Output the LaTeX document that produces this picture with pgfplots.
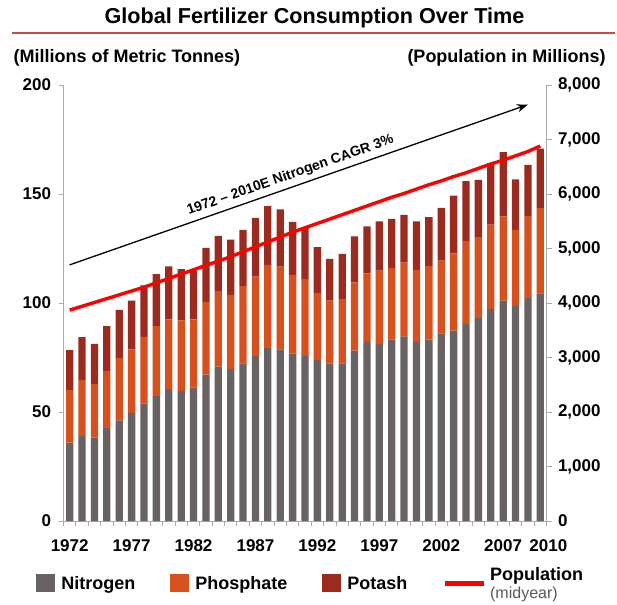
\documentclass[border=0pt]{standalone}
\usepackage{fontspec}
\setmainfont{Liberation Sans}
\usepackage{pgfplots}
\usepackage{pgfplotstable}
\pgfplotsset{compat=1.18}
\usetikzlibrary{arrows.meta}

\definecolor{nitro}{RGB}{104,99,98}
\definecolor{phos}{RGB}{214,81,30}
\definecolor{pota}{RGB}{155,42,31}
\definecolor{axgray}{RGB}{170,170,170}
\definecolor{rule}{RGB}{192,80,70}

\pgfplotsset{sq legend/.style={legend image code/.code={\fill[##1] (0pt,-9pt) rectangle (19pt,9pt); \path (23pt,0pt);}}}

% year, nitrogen, phosphate, potash (Mt), population (millions)
\pgfplotstableread{
year N P K pop
1972 36.0 24.0 18.4 3870
1973 38.9 25.7 19.8 3940
1974 38.3 24.5 18.4 4010
1975 42.6 26.3 20.5 4080
1976 46.2 28.5 22.1 4150
1977 49.6 29.1 22.4 4220
1978 53.9 30.6 23.6 4290
1979 57.3 32.1 23.9 4370
1980 60.5 32.0 24.3 4450
1981 59.7 32.3 23.5 4530
1982 61.3 31.2 22.4 4610
1983 67.1 33.4 24.8 4690
1984 70.8 34.6 25.4 4770
1985 69.8 33.9 25.4 4850
1986 72.3 35.4 25.8 4940
1987 75.7 36.4 27.0 5030
1988 79.3 38.2 26.9 5120
1989 78.7 38.0 26.2 5210
1990 76.9 36.0 24.3 5300
1991 75.7 35.3 23.3 5380
1992 73.8 30.9 20.9 5460
1993 72.3 28.8 19.1 5540
1994 72.3 29.5 20.7 5620
1995 78.1 31.4 21.1 5700
1996 82.2 31.4 21.5 5780
1997 81.2 33.7 22.5 5860
1998 83.2 32.9 22.5 5940
1999 84.7 33.8 21.9 6010
2000 82.2 33.0 22.2 6090
2001 83.2 33.8 22.4 6170
2002 86.1 33.3 24.2 6240
2003 87.3 35.5 26.4 6320
2004 90.4 38.1 27.4 6390
2005 93.1 37.1 26.3 6470
2006 97.2 38.8 28.2 6550
2007 101.1 38.6 29.5 6620
2008 98.6 34.9 23.2 6700
2009 102.3 37.5 23.6 6780
2010 104.4 39.1 27.3 6880
}\fert

\begin{document}
\begin{tikzpicture}[x=1pt,y=1pt]
\useasboundingbox (0,0) rectangle (617,604);

\begin{axis}[
    at={(63.5pt,83pt)}, anchor=south west,
    scale only axis, width=483pt, height=436pt,
    xmin=1971.5, xmax=2010.5,
    ymin=0, ymax=200,
    ybar stacked, bar width=7.3pt,
    axis y line*=left, axis x line*=bottom,
    axis line style={axgray, line width=0.8pt},
    tick style={axgray, line width=0.8pt},
    tick align=outside, major tick length=5pt,
    xtick={1971.5,1972.5,...,2010.5}, xticklabels={},
    extra x ticks={1972,1977,1982,1987,1992,1997,2002,2007,2010},
    extra x tick style={major tick length=0pt},
    extra x tick labels={1972,1977,1982,1987,1992,1997,2002,2007,\hspace*{16pt}2010},
    ytick={0,50,...,200},
    /pgf/number format/assume math mode=true,
    /pgf/number format/1000 sep={},
    ticklabel style={font=\bfseries\fontsize{17}{19}\selectfont},
    xticklabel style={yshift=-15pt},
    yticklabel style={xshift=-4pt},
    legend columns=4,
    legend style={at={(0.512,-0.143)}, anchor=center, draw=none, fill=none,
        font=\bfseries\fontsize{18}{20}\selectfont,
        /tikz/every even column/.append style={column sep=33pt},
        cells={align=left}},
]
\addplot[fill=nitro, draw=none, sq legend] table[x=year,y=N]{\fert};
\addplot[fill=phos, draw=none, sq legend] table[x=year,y=P]{\fert};
\addplot[fill=pota, draw=none, sq legend] table[x=year,y=K]{\fert};
\addlegendentry{Nitrogen}
\addlegendentry{Phosphate}
\addlegendentry{Potash}
\addlegendimage{legend image code/.code={\draw[red, line width=5pt] (0pt,0pt) -- (39pt,0pt); \path (43pt,0pt);}}
\addlegendentry{Population\\[-2pt]{\mdseries\color{black!65}\fontsize{16}{18}\selectfont (midyear)}}

\draw[-{Stealth[length=11pt,width=8pt]}, line width=1.3pt]
    (axis cs:1972,117.5) -- (axis cs:2009,191)
    node[pos=0.49, above=1pt, sloped, font=\bfseries\fontsize{14}{16}\selectfont]
    {1972 -- 2010E Nitrogen CAGR 3\%};
\end{axis}

\begin{axis}[
    at={(63.5pt,83pt)}, anchor=south west,
    scale only axis, width=483pt, height=436pt,
    xmin=1971.5, xmax=2010.5,
    ymin=0, ymax=8000,
    axis y line*=right, axis x line=none,
    axis line style={axgray, line width=0.8pt},
    tick style={axgray, line width=0.8pt},
    tick align=outside, major tick length=5pt,
    ytick={0,1000,...,8000},
    /pgf/number format/assume math mode=true,
    /pgf/number format/1000 sep={,},
    ticklabel style={font=\bfseries\fontsize{17}{19}\selectfont},
    yticklabel style={xshift=3pt},
]
\addplot[red, line width=3.4pt, line join=round] table[x=year,y=pop]{\fert};
\end{axis}

\node[font=\bfseries\fontsize{21.6}{24}\selectfont] at (314.5,586) {Global Fertilizer Consumption Over Time};
\draw[rule, line width=2pt] (12,571) -- (615,571);
\node[anchor=west, font=\bfseries\fontsize{18}{20}\selectfont] at (10,546) {(Millions of Metric Tonnes)};
\node[anchor=east, font=\bfseries\fontsize{18}{20}\selectfont] at (609,546) {(Population in Millions)};
\end{tikzpicture}
\end{document}
